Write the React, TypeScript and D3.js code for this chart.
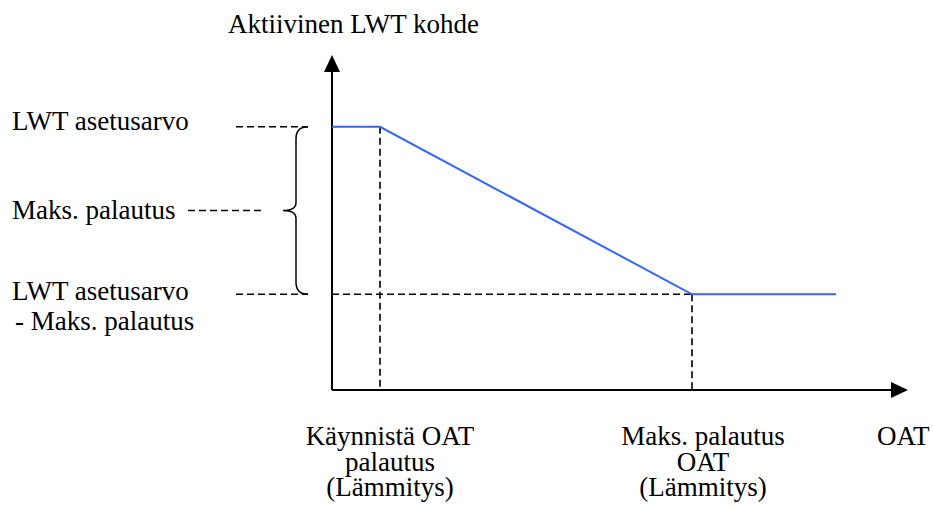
import React from "react";
import * as d3 from "d3";

// Conceptual units: x = OAT position, y = active LWT target level
const xMax = 12;
const yMax = 7;
const startOat = 1;        // Käynnistä OAT palautus
const maxResetOat = 7.5;   // Maks. palautus OAT
const lineEndOat = 10.5;
const lwtSetpoint = 5.5;
const lwtReduced = 2;

const curveX = [0, startOat, maxResetOat, lineEndOat];
const curveY = [lwtSetpoint, lwtSetpoint, lwtReduced, lwtReduced];

const yAxisTitle = "Aktiivinen LWT kohde";
const xAxisTitle = "OAT";
const startLabel = ["Käynnistä OAT", "palautus", "(Lämmitys)"];
const maxLabel = ["Maks. palautus", "OAT", "(Lämmitys)"];
const setpointLabel = "LWT asetusarvo";
const resetLabel = "Maks. palautus";
const reducedLabel = ["LWT asetusarvo", "- Maks. palautus"];

export default function App() {
  const W = 933, H = 507;
  const x = d3.scaleLinear().domain([0, xMax]).range([332, 908]);
  const y = d3.scaleLinear().domain([0, yMax]).range([390, 55]);
  const pts: [number, number][] = curveX.map((v, i) => [v, curveY[i]]);
  const line = d3.line<[number, number]>().x(d => x(d[0])).y(d => y(d[1]));
  const dash = "7,4";
  const x0 = x(0), yb = y(0);
  const yTop = y(lwtSetpoint), yLow = y(lwtReduced), yMid = (yTop + yLow) / 2;

  // brace path
  const bx = 296, r = 12;
  const brace = `M${bx + 12},${yTop} Q${bx},${yTop} ${bx},${yTop + r} L${bx},${yMid - 8} Q${bx},${yMid} ${bx - 13},${yMid} Q${bx},${yMid} ${bx},${yMid + 8} L${bx},${yLow - r} Q${bx},${yLow} ${bx + 12},${yLow}`;

  return (
    <svg width={W} height={H} style={{ position: "absolute", left: 0, top: 0, background: "#fff" }}>
      <rect width={W} height={H} fill="#fff" />
      <g fontFamily="Liberation Serif" fontSize={27} fill="#000">
        <text x={228} y={33}>{yAxisTitle}</text>
        <text x={12} y={130}>{setpointLabel}</text>
        <text x={12} y={219}>{resetLabel}</text>
        <text x={12} y={300}>{reducedLabel[0]}</text>
        <text x={15} y={330}>{reducedLabel[1]}</text>
        {startLabel.map((t, i) => (
          <text key={"s" + i} x={x(startOat) + 10} y={445 + i * 25.5} textAnchor="middle">{t}</text>
        ))}
        {maxLabel.map((t, i) => (
          <text key={"m" + i} x={x(maxResetOat) + 11} y={445 + i * 25.5} textAnchor="middle">{t}</text>
        ))}
        <text x={877} y={445}>{xAxisTitle}</text>
      </g>
      {/* dashed guides */}
      <g stroke="#000" strokeWidth={1.6} strokeDasharray={dash} fill="none">
        <line x1={236} x2={308} y1={yTop} y2={yTop} />
        <line x1={236} x2={308} y1={yLow} y2={yLow} />
        <line x1={188} x2={262} y1={yMid} y2={yMid} />
        <line x1={x0} x2={x(maxResetOat)} y1={yLow} y2={yLow} />
        <line x1={x(startOat)} x2={x(startOat)} y1={yTop} y2={yb} />
        <line x1={x(maxResetOat)} x2={x(maxResetOat)} y1={yLow} y2={yb} />
      </g>
      <path d={brace} fill="none" stroke="#000" strokeWidth={1.5} />
      {/* axes */}
      <g stroke="#000" strokeWidth={2}>
        <line x1={x0} x2={x0} y1={yb} y2={y(yMax) + 14} />
        <line x1={x0} x2={x(xMax) - 14} y1={yb} y2={yb} />
      </g>
      <path d={`M${x0},${y(yMax)} L${x0 - 8},${y(yMax) + 17} L${x0 + 8},${y(yMax) + 17} Z`} fill="#000" />
      <path d={`M${x(xMax)},${yb} L${x(xMax) - 17},${yb - 8} L${x(xMax) - 17},${yb + 8} Z`} fill="#000" />
      <path d={line(pts) || ""} fill="none" stroke="#3366ff" strokeWidth={2} />
    </svg>
  );
}
